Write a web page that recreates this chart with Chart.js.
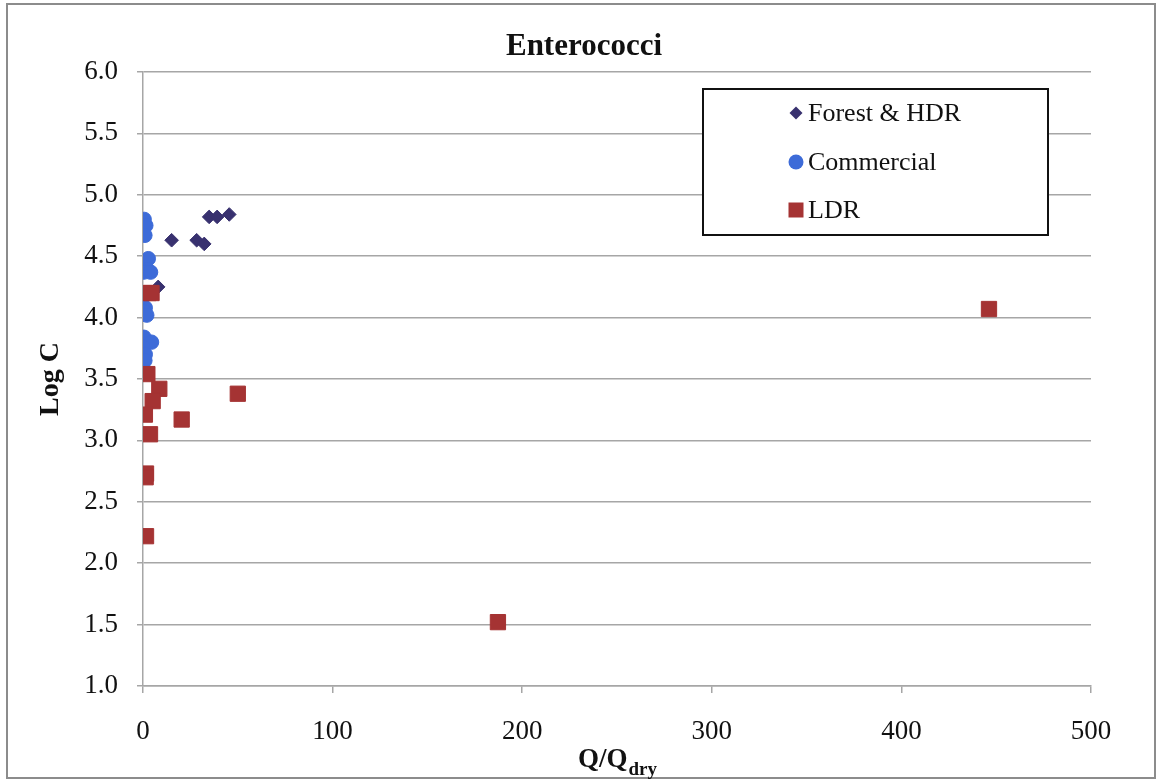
<!DOCTYPE html>
<html>
<head>
<meta charset="utf-8">
<script src="https://cdn.jsdelivr.net/npm/chart.js@4.4.1/dist/chart.umd.min.js"></script>
<style>
  html, body { margin: 0; padding: 0; background: #fff; }
  #wrap { width: 1158px; height: 782px; }
</style>
</head>
<body>
<div id="wrap"><canvas id="chart" width="1158" height="782"></canvas></div>
<script>
// Enterococci: log concentration against flow ratio, by land use
const seriesNames = ["Forest & HDR", "Commercial", "LDR"];

const forestX = [8.0, 15.1, 28.3, 32.3, 34.9, 39.1, 45.5];
const forestY = [4.25, 4.63, 4.63, 4.60, 4.82, 4.82, 4.84];

const commercialX = [0.6, 1.5, 1.0, 2.8, 2.2, 0.3, 4.0, 1.0, 1.2, 0.4, 2.0, 0.5, 4.5, 0.0, 1.2, 1.0];
const commercialY = [4.80, 4.75, 4.67, 4.48, 4.39, 4.37, 4.37, 4.19, 4.08, 4.05, 4.02, 3.84, 3.80, 3.76, 3.70, 3.65];

const ldrX = [2.8, 4.5, 2.3, 8.6, 5.1, 50.0, 1.0, 20.4, 3.7, 1.6, 1.4, 1.6, 187.2, 446.2];
const ldrY = [4.20, 4.20, 3.54, 3.42, 3.32, 3.38, 3.21, 3.17, 3.05, 2.73, 2.70, 2.22, 1.52, 4.07];

const xTicks = [0, 100, 200, 300, 400, 500];
const yTicks = [1.0, 1.5, 2.0, 2.5, 3.0, 3.5, 4.0, 4.5, 5.0, 5.5, 6.0];

const COL_FOREST = "#38316f";
const COL_COMM = "#3d6bd8";
const COL_LDR = "#a53333";
const GRID = "#a6a6a6";
const SERIF = "'Liberation Serif', 'Times New Roman', serif";

const pts = (xs, ys) => xs.map((x, i) => ({ x: x, y: ys[i] }));

function marker(ctx, style, x, y, r, color) {
  ctx.save();
  ctx.fillStyle = color;
  ctx.beginPath();
  if (style === "rectRot") {
    ctx.moveTo(x, y - r); ctx.lineTo(x + r, y); ctx.lineTo(x, y + r); ctx.lineTo(x - r, y);
    ctx.closePath();
  } else if (style === "circle") {
    ctx.arc(x, y, r, 0, Math.PI * 2);
  } else {
    ctx.rect(x - r, y - r, 2 * r, 2 * r);
  }
  ctx.fill();
  ctx.restore();
}

// frame, title, legend box and axis titles
const decorations = {
  id: "decorations",
  beforeDraw(chart) {
    const c = chart.ctx;
    c.save();
    c.fillStyle = "#fff";
    c.fillRect(0, 0, chart.width, chart.height);
    c.restore();
  },
  afterDraw(chart) {
    const c = chart.ctx;
    const area = chart.chartArea;
    c.save();
    // outer frame
    c.strokeStyle = "#8c8c8c";
    c.lineWidth = 2;
    c.strokeRect(7, 4, 1148, 774);

    // chart title, centred on the frame
    c.fillStyle = "#111";
    c.textAlign = "center";
    c.textBaseline = "alphabetic";
    c.font = "bold 31px " + SERIF;
    c.fillText("Enterococci", 584, 55);

    // legend
    c.fillStyle = "#fff";
    c.fillRect(703, 89, 345, 146);
    c.strokeStyle = "#111";
    c.lineWidth = 2;
    c.strokeRect(703, 89, 345, 146);
    const styles = ["rectRot", "circle", "rect"];
    const colors = [COL_FOREST, COL_COMM, COL_LDR];
    const sizes = [6.5, 7.5, 7.5];
    const rows = [113, 162, 210];
    c.font = "26px " + SERIF;
    c.textBaseline = "middle";
    c.textAlign = "left";
    seriesNames.forEach((name, i) => {
      marker(c, styles[i], 796, rows[i], sizes[i], colors[i]);
      c.fillStyle = "#111";
      c.fillText(name, 808, rows[i] + 1);
    });

    // x axis title with subscript
    const mid = (area.left + area.right) / 2;
    c.fillStyle = "#111";
    c.textBaseline = "alphabetic";
    c.font = "bold 27px " + SERIF;
    const main = "Q/Q";
    const wMain = c.measureText(main).width;
    c.font = "bold 19px " + SERIF;
    const sub = "dry";
    const wSub = c.measureText(sub).width;
    const x0 = mid - (wMain + wSub) / 2;
    c.font = "bold 27px " + SERIF;
    c.fillText(main, x0, 767);
    c.font = "bold 19px " + SERIF;
    c.fillText(sub, x0 + wMain + 1, 775);

    // y axis title
    c.translate(51, (area.top + area.bottom) / 2);
    c.rotate(-Math.PI / 2);
    c.textAlign = "center";
    c.textBaseline = "middle";
    c.font = "bold 28px " + SERIF;
    c.fillText("Log C", 0, 0);
    c.restore();
  }
};

new Chart(document.getElementById("chart"), {
  type: "scatter",
  data: {
    datasets: [
      { label: seriesNames[0], data: pts(forestX, forestY), pointStyle: "rectRot", pointRadius: 6.8, pointHoverRadius: 6.8,
        backgroundColor: COL_FOREST, borderColor: COL_FOREST, borderWidth: 1, order: 2 },
      { label: seriesNames[1], data: pts(commercialX, commercialY), pointStyle: "circle", pointRadius: 7.2, pointHoverRadius: 7.2,
        backgroundColor: COL_COMM, borderColor: COL_COMM, borderWidth: 1, order: 1 },
      { label: seriesNames[2], data: pts(ldrX, ldrY), pointStyle: "rect", pointRadius: 10.8, pointHoverRadius: 10.8,
        backgroundColor: COL_LDR, borderColor: COL_LDR, borderWidth: 1, order: 0 }
    ]
  },
  options: {
    responsive: false,
    animation: false,
    layout: { padding: { left: 0, right: 67, top: 72, bottom: 0 } },
    scales: {
      x: {
        type: "linear",
        min: xTicks[0],
        max: xTicks[xTicks.length - 1],
        afterBuildTicks: (s) => { s.ticks = xTicks.map(v => ({ value: v })); },
        afterFit: (s) => { s.height = 96; },
        grid: { drawOnChartArea: false, drawTicks: true, tickLength: 7, color: GRID, lineWidth: 1.5 },
        border: { display: true, color: GRID, width: 1.5 },
        ticks: { color: "#111", padding: 23, font: { family: SERIF, size: 27 } }
      },
      y: {
        type: "linear",
        min: yTicks[0],
        max: yTicks[yTicks.length - 1],
        afterBuildTicks: (s) => { s.ticks = yTicks.map(v => ({ value: v })); },
        afterFit: (s) => { s.width = 143; },
        grid: { color: GRID, lineWidth: 1.5, drawTicks: true, tickLength: 6 },
        border: { display: true, color: GRID, width: 1.5 },
        ticks: { color: "#111", padding: 19, font: { family: SERIF, size: 27 },
          callback: (v) => Number(v).toFixed(1) }
      }
    },
    plugins: {
      legend: { display: false },
      tooltip: { enabled: false },
      title: { display: false }
    }
  },
  plugins: [decorations]
});
</script>
</body>
</html>
